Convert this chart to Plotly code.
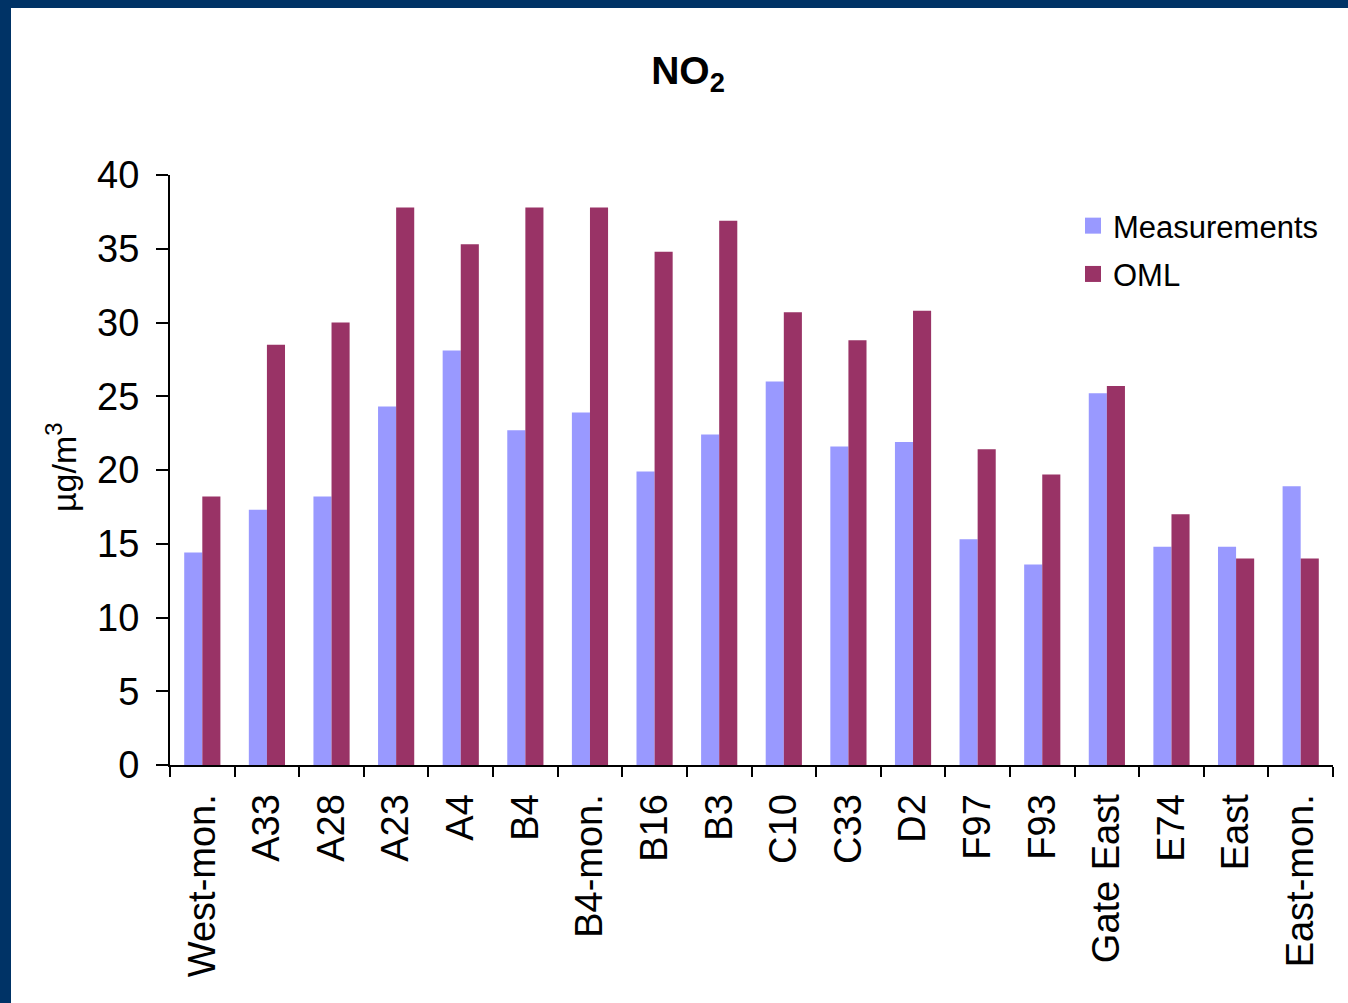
import plotly.graph_objects as go

categories = ["West-mon.", "A33", "A28", "A23", "A4", "B4", "B4-mon.", "B16", "B3",
              "C10", "C33", "D2", "F97", "F93", "Gate East", "E74", "East", "East-mon."]
measurements = [14.4, 17.3, 18.2, 24.3, 28.1, 22.7, 23.9, 19.9, 22.4,
                26.0, 21.6, 21.9, 15.3, 13.6, 25.2, 14.8, 14.8, 18.9]
oml = [18.2, 28.5, 30.0, 37.8, 35.3, 37.8, 37.8, 34.8, 36.9,
       30.7, 28.8, 30.8, 21.4, 19.7, 25.7, 17.0, 14.0, 14.0]
y_ticks = [0, 5, 10, 15, 20, 25, 30, 35, 40]
series_names = ["Measurements", "OML"]
series_colors = ["#9999FF", "#993366"]

FONT = "Liberation Sans, Arial, sans-serif"
W, H = 1348, 1003
L, R, T, B = 170, 15, 175, 238
pw, ph = W - L - R, H - T - B

fig = go.Figure()
for name, vals, col in zip(series_names, [measurements, oml], series_colors):
    fig.add_trace(go.Bar(name=name, x=categories, y=vals, legendgroup=name,
                         showlegend=False,
                         marker=dict(color=col, line=dict(width=0))))
for name, col in zip(series_names, series_colors):
    fig.add_trace(go.Scatter(name=name, x=[None], y=[None], mode="markers",
                             legendgroup=name, showlegend=True,
                             marker=dict(symbol="square", size=20, color=col,
                                         line=dict(width=0))))

def px_x(p):
    return (p - L) / pw

def px_y(p):
    return (H - B - p) / ph

border = "#003366"
fig.add_shape(type="rect", xref="paper", yref="paper",
              x0=px_x(0), x1=px_x(11), y0=px_y(H + 5), y1=px_y(-5),
              fillcolor=border, line=dict(width=0), layer="above")
fig.add_shape(type="rect", xref="paper", yref="paper",
              x0=px_x(0), x1=px_x(W + 5), y0=px_y(8), y1=px_y(-5),
              fillcolor=border, line=dict(width=0), layer="above")

fig.add_annotation(text="µg/m<sup>3</sup>", xref="paper", yref="paper",
                   x=px_x(61), y=px_y(467), textangle=-90, showarrow=False,
                   font=dict(family=FONT, size=34, color="black"),
                   xanchor="center", yanchor="middle")

fig.update_layout(
    width=W, height=H,
    margin=dict(l=L, r=R, t=T, b=B, autoexpand=False),
    paper_bgcolor="white", plot_bgcolor="white",
    barmode="group", bargap=0.44, bargroupgap=0,
    title=dict(text="<b>NO<sub>2</sub></b>", x=688 / W, xanchor="center",
               y=1 - 70 / H, yanchor="middle",
               font=dict(family=FONT, size=39, color="black")),
    font=dict(family=FONT, color="black"),
    legend=dict(x=px_x(1073), y=px_y(199), xanchor="left", yanchor="top",
                font=dict(family=FONT, size=31, color="black"),
                bgcolor="rgba(0,0,0,0)", itemwidth=30,
                traceorder="grouped", tracegroupgap=5),
    showlegend=True,
)
fig.update_xaxes(showline=True, linecolor="black", linewidth=2,
                 ticks="outside", tickson="boundaries", ticklen=10, tickwidth=2,
                 tickcolor="black", tickangle=-90,
                 tickfont=dict(family=FONT, size=38, color="black"),
                 showgrid=False, zeroline=False, fixedrange=True,
                 ticklabelstandoff=12)
fig.update_yaxes(range=[0, 40], tickvals=y_ticks, showline=True, linecolor="black",
                 linewidth=2, ticks="outside", ticklen=12, tickwidth=2,
                 tickcolor="black", tickfont=dict(family=FONT, size=38, color="black"),
                 showgrid=False, zeroline=False, ticklabelstandoff=9)

fig.write_html("out.html")
